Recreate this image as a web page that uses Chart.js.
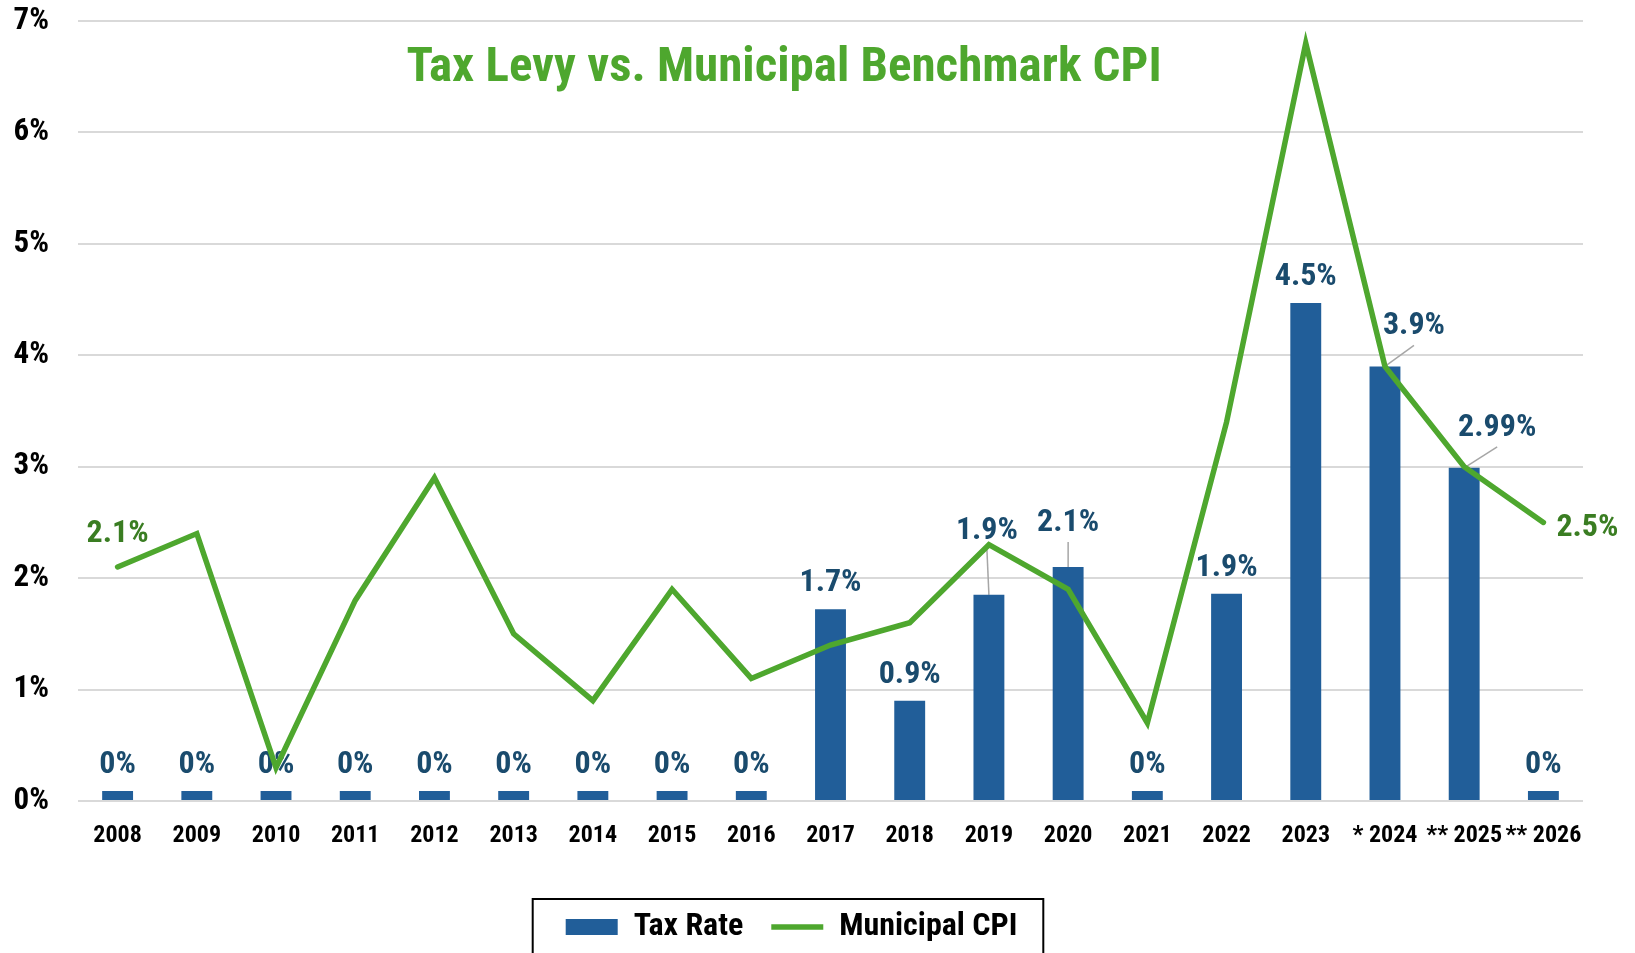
<!DOCTYPE html>
<html>
<head>
<meta charset="utf-8">
<script src="https://cdn.jsdelivr.net/npm/chart.js@4"></script>
<style>
  html, body { margin: 0; padding: 0; background: #fff; }
  canvas { display: block; }
</style>
</head>
<body>
<canvas id="taxChart" width="1635" height="953"></canvas>
<script>
const years = ['2008', '2009', '2010', '2011', '2012', '2013', '2014', '2015', '2016', '2017',
    '2018', '2019', '2020', '2021', '2022', '2023', '* 2024', '** 2025', '** 2026'];
const taxRate = [0.09, 0.09, 0.09, 0.09, 0.09, 0.09, 0.09, 0.09, 0.09, 1.72,
    0.9, 1.85, 2.1, 0.09, 1.86, 4.47, 3.9, 2.99, 0.09];
const taxLabels = ['0%', '0%', '0%', '0%', '0%', '0%', '0%', '0%', '0%', '1.7%',
    '0.9%', '1.9%', '2.1%', '0%', '1.9%', '4.5%', '3.9%', '2.99%', '0%'];
const municipalCpi = [2.1, 2.4, 0.3, 1.8, 2.9, 1.5, 0.9, 1.9, 1.1, 1.4,
    1.6, 2.3, 1.9, 0.7, 3.4, 6.8, 3.9, 3.0, 2.5];
const cpiLabels = { 0: '2.1%', 18: '2.5%' };
const yTicks = [0, 1, 2, 3, 4, 5, 6, 7];

const FONT = "'Liberation Sans Narrow', 'Arial Narrow', 'Roboto Condensed', sans-serif";
const BAR_BLUE = '#215e99';
const LINE_GREEN = '#4ea72e';

// label nudges (px) for the bars that have leader lines
const leaders = {
    11: { dx: -2, dy: -56 },
    12: { dx: 0, dy: -36 },
    16: { dx: 29, dy: -32 },
    17: { dx: 33, dy: -32 }
};

const labelPlugin = {
    id: 'valueLabels',
    beforeDatasetsDraw(chart) {
        var ctx = chart.ctx;
        ctx.save();
        ctx.font = 'bold 32px ' + FONT;
        ctx.textBaseline = 'alphabetic';

        var bars = chart.getDatasetMeta(0).data;
        bars.forEach((bar, i) => {
            var lead = leaders[i];
            var x = bar.x, y = bar.y - 18;
            if (lead) {
                x = bar.x + lead.dx;
                y = bar.y + lead.dy;
                ctx.strokeStyle = '#a6a6a6';
                ctx.lineWidth = 1.5;
                ctx.beginPath();
                ctx.moveTo(bar.x, bar.y);
                ctx.lineTo(x, y + 11);
                ctx.stroke();
            }
            ctx.fillStyle = '#1a4b6d';
            ctx.textAlign = 'center';
            ctx.fillText(taxLabels[i], x, y);
        });

        var pts = chart.getDatasetMeta(1).data;
        ctx.fillStyle = '#3a7d22';
        ctx.textAlign = 'center';
        ctx.fillText(cpiLabels[0], pts[0].x, pts[0].y - 25);
        ctx.textAlign = 'left';
        ctx.fillText(cpiLabels[18], pts[18].x + 13, pts[18].y + 14);

        // chart title sits inside the plot
        ctx.font = 'bold 49px ' + FONT;
        ctx.fillStyle = LINE_GREEN;
        ctx.textAlign = 'center';
        ctx.fillText('Tax Levy vs. Municipal Benchmark CPI', 784, 81);
        ctx.restore();
    },
    afterDraw(chart) {
        var boxes = chart.legend.legendHitBoxes;
        if (!boxes || !boxes.length) return;
        var left = boxes[0].left - 33;
        var last = boxes[boxes.length - 1];
        var right = last.left + last.width + 26;
        var top = boxes[0].top - 12;
        var ctx = chart.ctx;
        ctx.save();
        ctx.strokeStyle = '#000';
        ctx.lineWidth = 2;
        ctx.strokeRect(left, top, right - left, 953 - top + 5);
        ctx.restore();
    }
};

var taxContext = document.getElementById('taxChart').getContext('2d');

var taxChart = new Chart(taxContext, {
    type: 'bar',
    data: {
        labels: years,
        datasets: [{
            label: 'Tax Rate',
            data: taxRate,
            backgroundColor: BAR_BLUE,
            borderWidth: 0,
            categoryPercentage: 1,
            barPercentage: 0.39,
            order: 2,
            pointStyle: 'rect'
        }, {
            type: 'line',
            label: 'Municipal CPI',
            data: municipalCpi,
            borderColor: LINE_GREEN,
            backgroundColor: LINE_GREEN,
            borderWidth: 5.5,
            borderCapStyle: 'round',
            borderJoinStyle: 'miter',
            pointRadius: 0,
            tension: 0,
            order: 1,
            pointStyle: 'line'
        }]
    },
    options: {
        responsive: false,
        animation: false,
        events: [],
        layout: { padding: { left: 0, right: 52, top: 21, bottom: 0 } },
        scales: {
            x: {
                grid: { display: false, drawTicks: false },
                border: { display: false },
                ticks: {
                    color: '#000',
                    font: { family: FONT, size: 24, weight: 'bold' },
                    padding: 21,
                    maxRotation: 0,
                    autoSkip: false
                },
                afterFit: (scale) => { scale.height = 82; scale.paddingLeft = 0; scale.paddingRight = 0; }
            },
            y: {
                min: yTicks[0],
                max: yTicks[yTicks.length - 1],
                afterBuildTicks: (scale) => { scale.ticks = yTicks.map(v => ({ value: v })); },
                grid: { color: '#d9d9d9', lineWidth: 2, drawTicks: false },
                border: { display: false },
                ticks: {
                    color: '#000',
                    font: { family: FONT, size: 31, weight: 'bold' },
                    padding: 29,
                    callback: (v) => v + '%'
                },
                afterFit: (scale) => { scale.width = 78; scale.paddingTop = 0; scale.paddingBottom = 0; }
            }
        },
        plugins: {
            tooltip: { enabled: false },
            legend: {
                position: 'bottom',
                labels: {
                    color: '#000',
                    font: { family: FONT, size: 32, weight: 'bold' },
                    usePointStyle: true,
                    pointStyleWidth: 52,
                    boxHeight: 16,
                    padding: 28,
                    sort: (a, b) => a.datasetIndex - b.datasetIndex
                }
            }
        }
    },
    plugins: [labelPlugin]
});
</script>
</body>
</html>
